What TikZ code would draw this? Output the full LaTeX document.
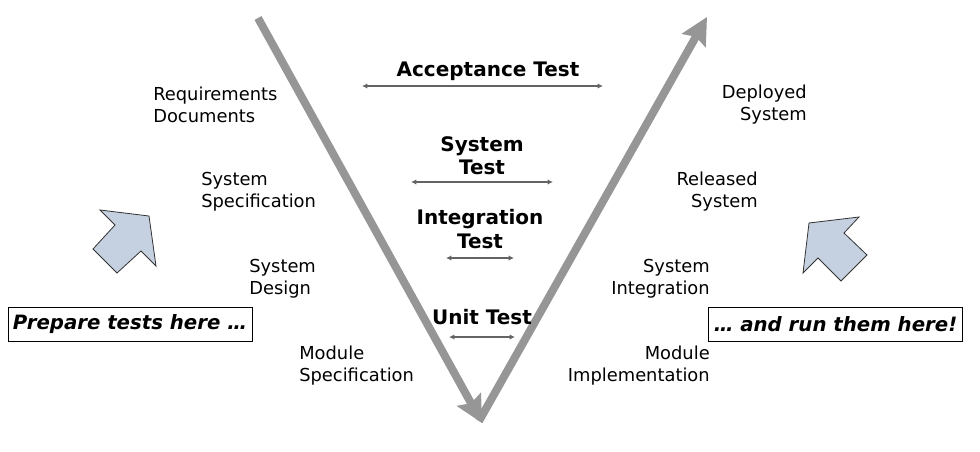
\documentclass[tikz,border=0pt]{standalone}
\usepackage{fontspec}
\setmainfont{DejaVu Sans}
\usetikzlibrary{arrows.meta}
\definecolor{vgray}{RGB}{150,150,150}
\definecolor{dgray}{RGB}{100,100,100}
\definecolor{blockfill}{RGB}{197,208,224}
\tikzset{
  lbl/.style={inner sep=0pt, font=\fontsize{13.4}{16.5}\selectfont},
  lleft/.style={lbl, align=left, anchor=west},
  lright/.style={lbl, align=right, anchor=east},
  testlbl/.style={inner sep=0pt, align=center, font=\fontsize{15}{17.5}\selectfont\bfseries},
  varrow/.style={draw=vgray, line width=6pt, -{Stealth[length=20pt,width=20pt,inset=3pt]}},
  dbl/.style={draw=dgray, line width=1.3pt, {Latex[length=4pt,width=4pt]}-{Latex[length=4pt,width=4pt]}},
  notebox/.style={draw=black, line width=0.6pt, fill=white, inner sep=0pt, minimum height=25pt, font=\fontsize{14.8}{16}\selectfont\bfseries\itshape},
  block/.style={draw=black!80, line width=0.6pt, fill=blockfill, line join=miter}
}
\begin{document}
\begin{tikzpicture}[x=0.75pt,y=-0.75pt]
\useasboundingbox (0,0) rectangle (980,451);
% V arrows
\coordinate (vtl) at (258,18);
\coordinate (vb) at (482,423);
\coordinate (vbs) at (479,421);
\coordinate (vtr) at (707,17);
\draw[varrow] (vtl) -- (vb);
\draw[varrow] (vbs) -- (vtr);
% test labels and double arrows
\node[testlbl] (acc) at (488,71) {Acceptance Test};
\coordinate (a1) at (362,86); \coordinate (a2) at (603,86);
\draw[dbl] (a1) -- (a2);
\node[testlbl] (sys) at (482,155.5) {System\\Test};
\coordinate (s1) at (411,182); \coordinate (s2) at (553,182);
\draw[dbl] (s1) -- (s2);
\node[testlbl] (int) at (480,229) {Integration\\Test};
\coordinate (i1) at (446,258); \coordinate (i2) at (514,258);
\draw[dbl] (i1) -- (i2);
\node[testlbl] (unit) at (482,317) {Unit Test};
\coordinate (u1) at (449,337); \coordinate (u2) at (515,337);
\draw[dbl] (u1) -- (u2);
% left labels
\node[lleft] (req) at (153,105) {Requirements\\Documents};
\node[lleft] (sspec) at (201,192) {System\\Specification};
\node[lleft] (sdes) at (249,279) {System\\Design};
\node[lleft] (mspec) at (299,366) {Module\\Specification};
% right labels
\node[lright] (dep) at (807,105) {Deployed\\System};
\node[lright] (rel) at (758,192) {Released\\System};
\node[lright] (sint) at (710,279) {System\\Integration};
\node[lright] (mimp) at (710,366) {Module\\Implementation};
% note boxes
\node[notebox, minimum width=183pt] (prep) at (130,324.5) {Prepare tests here \dots};
\node[notebox, minimum width=191pt] (run) at (835.5,324.5) {\dots{} and run them here!};
% block arrows
\draw[block] (100,210) -- (149,216) -- (156,266) -- (141,251) -- (117,273) -- (93,249) -- (115,225) -- cycle;
\draw[block] (859,217) -- (809,223) -- (803,273) -- (818,258) -- (841,281) -- (867,255) -- (844,233) -- cycle;
\end{tikzpicture}
\end{document}
